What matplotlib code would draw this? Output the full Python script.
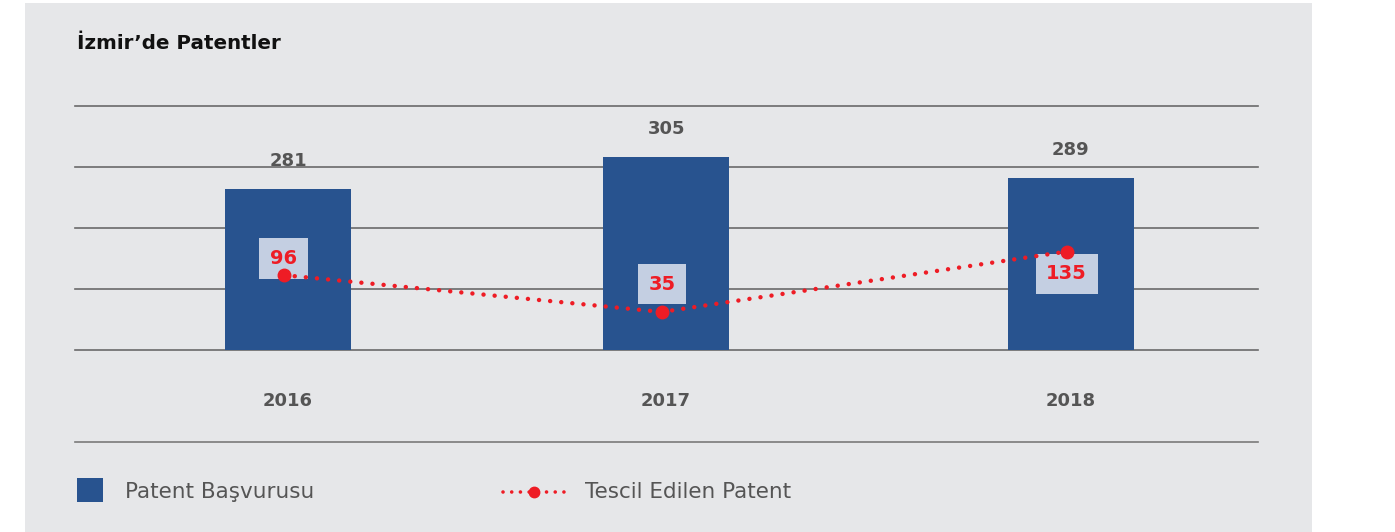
import numpy as np
import matplotlib
matplotlib.use("Agg")
import matplotlib.pyplot as plt
from matplotlib.patches import Rectangle
from matplotlib.lines import Line2D

# data
years = ["2016", "2017", "2018"]
basvuru = [281, 305, 289]          # Patent Başvurusu (bars)
tescil = [96, 35, 135]             # Tescil Edilen Patent (dotted line)

W, H = 1395, 532
bar_col = "#28538f"
red = "#ee1c25"
grey_txt = "#555555"
panel = "#e6e7e9"

plt.rcParams["font.family"] = ["DejaVu Sans"]

fig = plt.figure(figsize=(W / 100, H / 100), dpi=100, facecolor="white")

def fx(px):
    return px / W

def fy(py):
    return 1 - py / H

# grey panel behind everything
fig.patches.append(Rectangle((fx(25), 0), fx(1312) - fx(25), fy(3), transform=fig.transFigure,
                             facecolor=panel, edgecolor="none", zorder=-10))

fig.text(fx(77), fy(44), "İzmir’de Patentler", fontsize=14.3, fontweight="bold", color="#111111",
         va="center", ha="left")

ax = fig.add_axes([fx(75), fy(350), fx(1258) - fx(75), fy(106) - fy(350)])
ax.set_facecolor("none")
# bar centres are not quite evenly spaced in the original layout
x = np.array([0, 0.966, 2])
ax.bar(x, basvuru, width=0.32, color=bar_col, zorder=3)
ax.set_xlim(-0.544, 2.478)
ylo, yhi = 160, 343
ax.set_ylim(ylo, yhi)
ax.set_yticks(np.linspace(ylo, yhi, 5))
ax.yaxis.grid(True, color="#6a6a6a", lw=1.2)
for gl in ax.get_ygridlines():
    gl.set_clip_on(False)
ax.set_axisbelow(True)
ax.tick_params(axis="y", length=0, labelleft=False)
ax.set_xticks(x)
ax.set_xticklabels(years, fontsize=13, fontweight="bold", color=grey_txt)
ax.tick_params(axis="x", length=0, pad=30)
for s in ax.spines.values():
    s.set_visible(False)
for xi, v in zip(x, basvuru):
    ax.annotate(str(v), (xi, v), xytext=(0, 20), textcoords="offset points",
                ha="center", va="center", fontsize=13, fontweight="bold", color=grey_txt)

ax2 = ax.twinx()
ax2.set_ylim(-28, 376)
ax2.axis("off")
xl = x - 0.011
ax2.plot(xl, tescil, color=red, lw=3.2, linestyle=(0, (0.01, 2.5)), dash_capstyle="round",
         zorder=5)
ax2.plot(xl, tescil, "o", color=red, markersize=9, zorder=6)
label_off = [12, 20, -16]
for xi, v, off in zip(xl, tescil, label_off):
    ax2.annotate(str(v), (xi, v), xytext=(0, off), textcoords="offset points",
                 ha="center", va="center", fontsize=14, fontweight="bold", color=red,
                 bbox=dict(boxstyle="square,pad=0.55", facecolor="#c4cfe2", edgecolor="none"),
                 zorder=4)

# separator above legend
fig.add_artist(Line2D([fx(75), fx(1258)], [fy(442), fy(442)], color="#7a7a7a", lw=1.2))

# legend drawn by hand
fig.patches.append(Rectangle((fx(77), fy(502)), fx(103) - fx(77), fy(478) - fy(502),
                             transform=fig.transFigure, facecolor=bar_col, edgecolor="none"))
fig.text(fx(125), fy(492), "Patent Başvurusu", fontsize=15.5, color=grey_txt, va="center", ha="left")
fig.add_artist(Line2D([fx(503), fx(566)], [fy(492), fy(492)], color=red, lw=2.6,
                      linestyle=(0, (0.01, 2.4)), dash_capstyle="round"))
fig.add_artist(Line2D([fx(534)], [fy(492)], marker="o", color=red, markersize=7.5))
fig.text(fx(585), fy(492), "Tescil Edilen Patent", fontsize=15.5, color=grey_txt, va="center", ha="left")

fig.savefig("out.png", dpi=100, facecolor="white")
